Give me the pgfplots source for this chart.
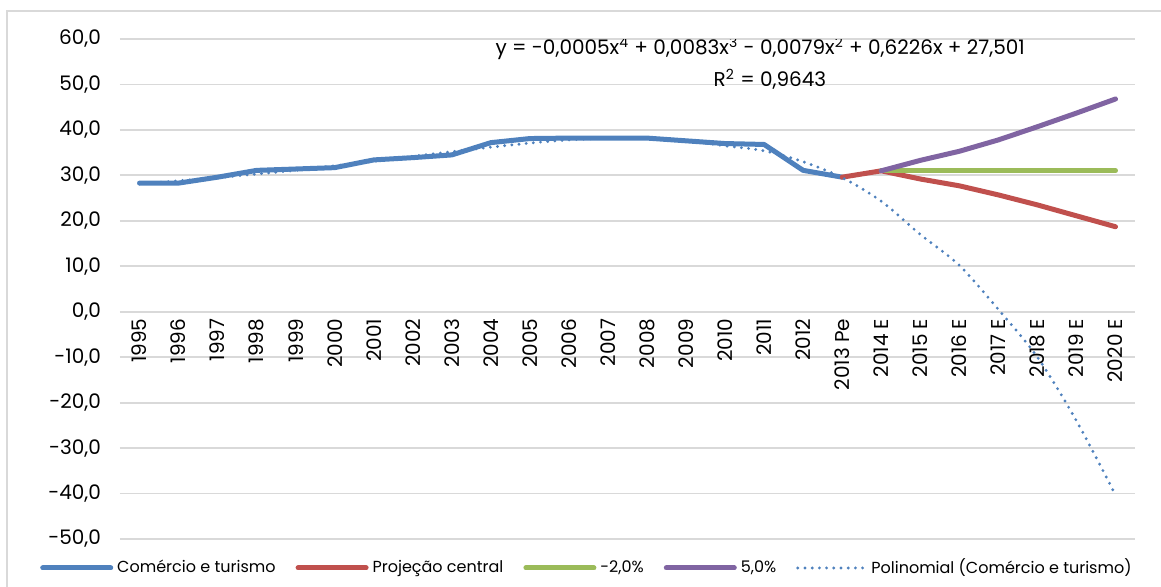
\documentclass[border=0pt]{standalone}
\usepackage{pgfplots}
\pgfplotsset{compat=1.18}
\usepackage{fontspec}
\setmainfont{Poppins}
\definecolor{cblue}{HTML}{4F81BD}
\definecolor{cred}{HTML}{C0504D}
\definecolor{cgreen}{HTML}{9BBB59}
\definecolor{cpurple}{HTML}{8064A2}
\definecolor{cgrid}{HTML}{D9D9D9}
\begin{document}
\begin{tikzpicture}
\useasboundingbox (-60pt,-24pt) rectangle (520.5pt,269.5pt);
\draw[cgrid, line width=1pt] (-56.5pt,-40pt) -- (-56.5pt,264pt) -- (540pt,264pt);
\begin{axis}[
  scale only axis, width=507.5pt, height=250pt,
  xmin=-0.5, xmax=25.5, ymin=-50, ymax=60,
  axis x line=middle, axis y line=left,
  axis line style={draw=none},
  major tick length=0pt,
  ytick={-50,-40,...,60},
  yticklabels={{-50,0},{-40,0},{-30,0},{-20,0},{-10,0},{0,0},{10,0},{20,0},{30,0},{40,0},{50,0},{60,0}},
  ymajorgrids, grid style={cgrid, line width=0.9pt},
  xtick={0,...,25},
  xticklabels={1995,1996,1997,1998,1999,2000,2001,2002,2003,2004,2005,2006,2007,2008,2009,2010,2011,2012,2013 Pe,2014 E,2015 E,2016 E,2017 E,2018 E,2019 E,2020 E},
  x tick label style={rotate=90, anchor=east, font=\fontsize{10}{12}\selectfont},
  yticklabel style={font=\fontsize{10}{12}\selectfont, xshift=-6pt},
  legend style={at={(0.461,-0.058)}, anchor=center, draw=none, fill=none,
    font=\fontsize{8}{10}\selectfont,
    /tikz/every even column/.append style={column sep=8pt}},
  legend columns=-1,
  legend image code/.code={\draw[#1] (0pt,0pt) -- (34pt,0pt);},
  every axis plot/.append style={line cap=round, line join=round},
]
\addplot[cblue, line width=2.5pt] coordinates {
(0,28.3)(1,28.3)(2,29.6)(3,31.1)(4,31.4)(5,31.7)(6,33.4)(7,33.9)(8,34.5)(9,37.2)
(10,38.1)(11,38.2)(12,38.2)(13,38.2)(14,37.6)(15,37.0)(16,36.8)(17,31.1)(18,29.6)};
\addlegendentry{Comércio e turismo}
\addplot[cred, line width=2.5pt] coordinates {
(18,29.6)(19,31.0)(20,29.2)(21,27.7)(22,25.7)(23,23.5)(24,21.1)(25,18.7)};
\addlegendentry{Projeção central}
\addplot[cgreen, line width=2.5pt] coordinates {
(19,31.0)(20,31.0)(21,31.0)(22,31.0)(23,31.0)(24,31.0)(25,31.0)};
\addlegendentry{-2,0\%}
\addplot[cpurple, line width=2.5pt] coordinates {
(19,31.0)(20,33.3)(21,35.3)(22,37.8)(23,40.7)(24,43.7)(25,46.8)};
\addlegendentry{5,0\%}
\addplot[cblue, line width=1.6pt, dash pattern=on 0pt off 3.6pt, smooth] coordinates {
(0,28.1)(1,28.8)(2,29.5)(3,30.3)(4,31.1)(5,32.1)(6,33.1)(7,34.2)(8,35.2)(9,36.2)
(10,37.1)(11,37.8)(12,38.2)(13,38.2)(14,37.6)(15,36.5)(16,35.4)(17,33.0)(18,29.5)
(19,24.3)(20,17.0)(21,10.2)(22,0.5)(23,-10.0)(24,-24.0)(25,-40.3)};
\addlegendentry{Polinomial (Comércio e turismo)}
\node[font=\fontsize{10}{12}\selectfont] at (axis cs:15.9,57.9) {y = -0,0005x\textsuperscript{4} + 0,0083x\textsuperscript{3} - 0,0079x\textsuperscript{2} + 0,6226x + 27,501};
\node[font=\fontsize{10}{12}\selectfont] at (axis cs:16.15,51.1) {R\textsuperscript{2} = 0,9643};
\end{axis}
\end{tikzpicture}
\end{document}
